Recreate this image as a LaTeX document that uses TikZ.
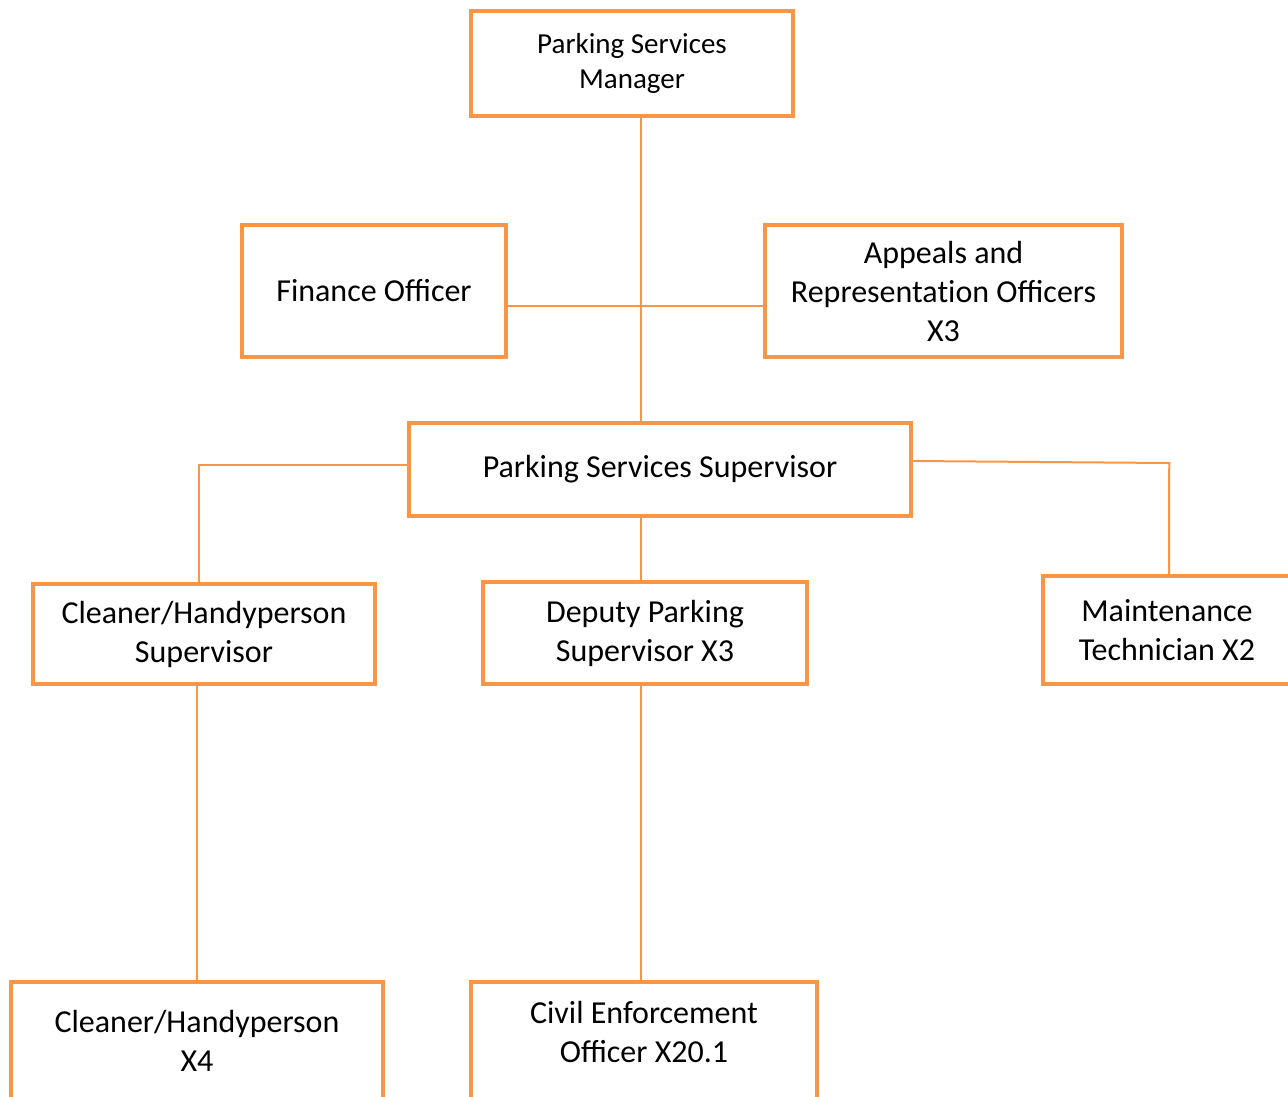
\documentclass[tikz,border=0pt]{standalone}
\usepackage{fontspec}
\setmainfont{Carlito}
\definecolor{org}{HTML}{F79646}
\begin{document}
\begin{tikzpicture}[x=1pt,y=-1pt,
  box/.style={draw=org, line width=4.5pt, fill=white, align=center, inner sep=0pt,
    font=\fontsize{32}{39}\selectfont},
  conn/.style={draw=org, line width=2pt}]
\useasboundingbox (0,0) rectangle (1288,1096);
\fill[white] (0,0) rectangle (1288,1096);
\clip (0,0) rectangle (1288,1096);
\coordinate (trunk) at (641,0);
\node[box, minimum width=322pt, minimum height=105pt, font=\fontsize{29}{35.5}\selectfont] (mgr) at (632,63.5) {Parking Services\\Manager};
\node[box, minimum width=264pt, minimum height=132pt] (fin) at (374,291) {Finance Officer};
\node[box, minimum width=357pt, minimum height=132pt] (app) at (943.5,291) {Appeals and\\Representat\kern0pt{}ion Officers\\X3};
\node[box, minimum width=502pt, minimum height=93pt] (sup) at (660,469.5) {Parking Services Supervisor};
\node[box, minimum width=342pt, minimum height=100pt] (csup) at (204,634) {Cleaner/Handyperson\\Supervisor};
\node[box, minimum width=324pt, minimum height=102pt] (dep) at (645,633) {Deputy Parking\\Supervisor X3};
\node[box, minimum width=248pt, minimum height=108pt] (maint) at (1167,630) {Maintenance\\Technician X2};
\node[box, minimum width=372pt, minimum height=118pt] (cx4) at (197,1041) {Cleaner/Handyperson\\X4};
\node[box, minimum width=346pt, minimum height=118pt] (civ) at (644,1041) {};
\node[align=center, inner sep=0pt, font=\fontsize{32}{39}\selectfont] (civtext) at (644,1032) {Civil Enforcement\\Officer X20.1};
% connectors
\draw[conn] (mgr.south -| trunk) -- (sup.north -| trunk);
\draw[conn] ([yshift=-15pt]fin.east) -- ([yshift=-15pt]app.west);
\draw[conn] ([yshift=4.5pt]sup.west) -| ([xshift=-5pt]csup.north);
\draw[conn] ([yshift=8.5pt]sup.east) -- ++(256,2) -- ([xshift=2pt]maint.north);
\draw[conn] (sup.south -| trunk) -- (dep.north -| trunk);
\draw[conn] ([xshift=-7pt]csup.south) -- (cx4.north);
\draw[conn] (dep.south -| trunk) -- (civ.north -| trunk);
\end{tikzpicture}
\end{document}
